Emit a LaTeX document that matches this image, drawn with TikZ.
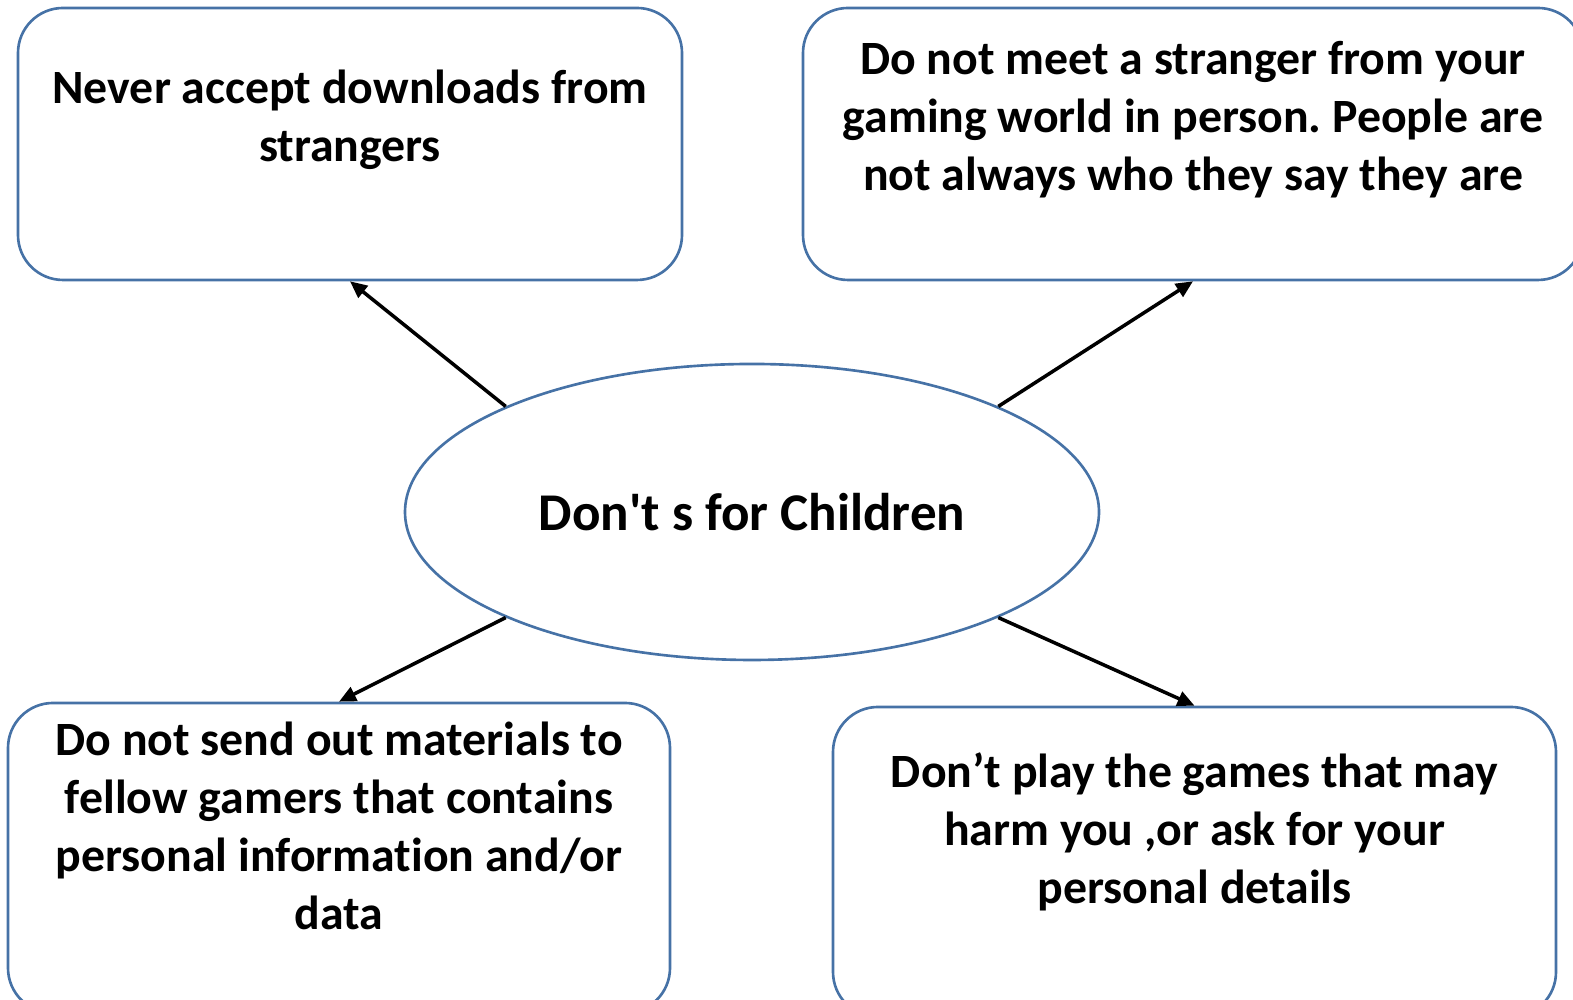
\documentclass[tikz,border=0pt]{standalone}
\usepackage{fontspec}
\setmainfont{Carlito}[Ligatures=NoCommon]
\usetikzlibrary{shapes.geometric,arrows.meta}
\definecolor{outline}{RGB}{70,114,166}
\frenchspacing
\begin{document}
\begin{tikzpicture}
    \tikzstyle{card} = [draw=outline, line width=0.75pt, rounded corners=0.45cm]
    \tikzstyle{rule} = [align=center, inner sep=0pt, font=\fontsize{13.6}{16.5}\selectfont\bfseries]
    \tikzstyle{link} = [line width=1pt, -{Triangle[length=0.17cm,width=0.15cm]}]
    \useasboundingbox (0,0) rectangle (15.73,10);
    % centre
    \node[ellipse, draw=outline, line width=0.75pt, minimum width=6.94cm, minimum height=2.96cm, inner sep=0pt,
          font=\fontsize{15.1}{18}\selectfont\bfseries] (kids) at (7.52, 4.88) {Don\textquotesingle t s for Children};
    % boxes
    \node[card, minimum width=6.64cm, minimum height=2.72cm] (tl) at (3.50, 8.56) {};
    \node[card, minimum width=7.80cm, minimum height=2.72cm] (tr) at (11.93, 8.56) {};
    \node[card, minimum width=6.62cm, minimum height=3.10cm] (bl) at (3.39, 1.42) {};
    \node[card, minimum width=7.23cm, minimum height=3.10cm] (br) at (11.945, 1.38) {};
    % texts
    \node[rule] (tltext) at ([yshift=-1.13cm]tl.north) {Never accept downloads from\\strangers};
    \node[rule] (trtext) at ([yshift=-1.13cm]tr.north) {Do not meet a stranger from your\\gaming world in person. People are\\not always who they say they are};
    \node[rule] (bltext) at ([yshift=-1.24cm]bl.north) {Do not send out materials to\\fellow gamers that contains\\personal information and/or\\data};
    \node[rule] (brtext) at ([yshift=-1.26cm]br.north) {Don’t play the games that may\\harm you ,or ask for your\\personal details};
    % arrows
    \draw[link] (kids.north west) -- (tl.south);
    \draw[link] (kids.north east) -- (tr.south);
    \draw[link] (kids.south west) -- (bl.north);
    \draw[link] (kids.south east) -- (br.north);
\end{tikzpicture}
\end{document}
